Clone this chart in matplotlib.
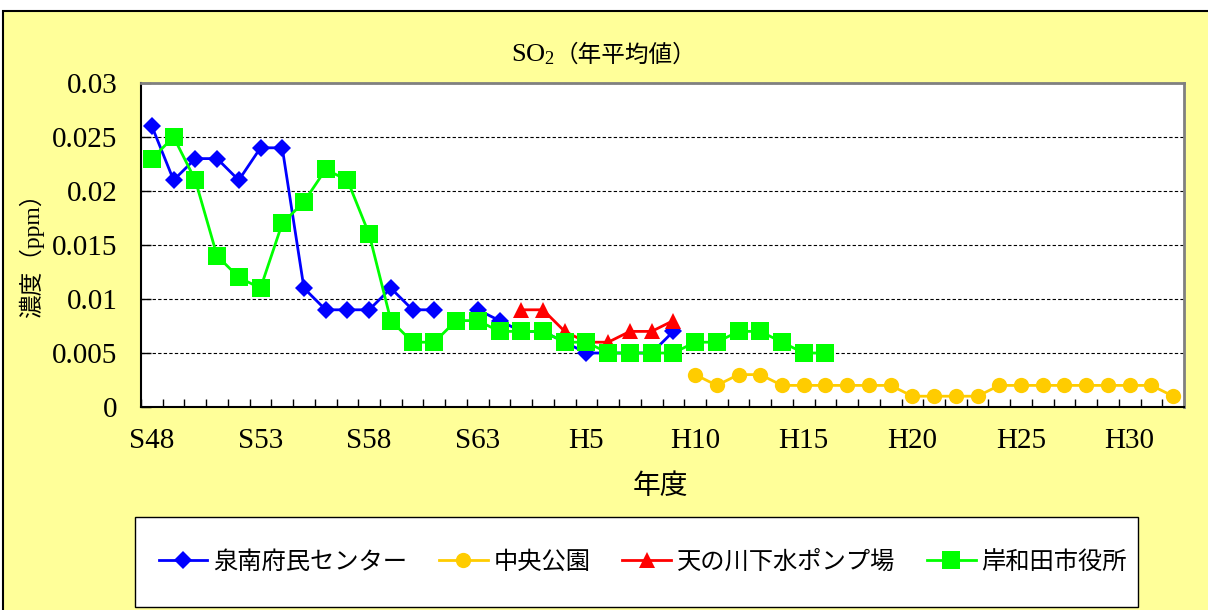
import numpy as np
import matplotlib
matplotlib.use("Agg")
import matplotlib.pyplot as plt
from matplotlib.patches import Rectangle

plt.rcParams['font.family'] = ['Liberation Serif', 'Noto Sans CJK JP']
plt.rcParams['mathtext.fontset'] = 'custom'
plt.rcParams['mathtext.rm'] = 'Liberation Serif'

nan = np.nan

# fiscal years on the category axis (S48 = 1973 ... H32 = 2020)
years = [f"S{y}" for y in range(48, 64)] + [f"H{y}" for y in range(1, 33)]
tick_years = ["S48", "S53", "S58", "S63", "H5", "H10", "H15", "H20", "H25", "H30"]
y_ticks = [0, 0.005, 0.01, 0.015, 0.02, 0.025, 0.03]

# 泉南府民センター
sennan_start = "S48"
sennan = [0.026, 0.021, 0.023, 0.023, 0.021, 0.024, 0.024, 0.011, 0.009, 0.009,
          0.009, 0.011, 0.009, 0.009, nan, 0.009, 0.008, 0.007, 0.007, 0.006,
          0.005, 0.005, 0.005, 0.005, 0.007]

# 中央公園
chuo_start = "H10"
chuo = [0.003, 0.002, 0.003, 0.003, 0.002, 0.002, 0.002, 0.002, 0.002, 0.002,
        0.001, 0.001, 0.001, 0.001, 0.002, 0.002, 0.002, 0.002, 0.002, 0.002,
        0.002, 0.002, 0.001]

# 天の川下水ポンプ場
amanogawa_start = "H2"
amanogawa = [0.009, 0.009, 0.007, 0.006, 0.006, 0.007, 0.007, 0.008]

# 岸和田市役所
kishiwada_start = "S48"
kishiwada = [0.023, 0.025, 0.021, 0.014, 0.012, 0.011, 0.017, 0.019, 0.022, 0.021,
             0.016, 0.008, 0.006, 0.006, 0.008, 0.008, 0.007, 0.007, 0.007, 0.006,
             0.006, 0.005, 0.005, 0.005, 0.005, 0.006, 0.006, 0.007, 0.007, 0.006,
             0.005, 0.005]

series = [
    ("泉南府民センター", sennan_start, sennan, "#0000FF", "D", 9.5),
    ("中央公園", chuo_start, chuo, "#FFCC00", "o", 11),
    ("天の川下水ポンプ場", amanogawa_start, amanogawa, "#FF0000", "^", 11),
    ("岸和田市役所", kishiwada_start, kishiwada, "#00FF00", "s", 13),
]

W, H = 1208, 610
fig = plt.figure(figsize=(W / 100, H / 100), dpi=100)
fig.patch.set_facecolor("white")

# yellow chart area with a black edge
fig.add_artist(Rectangle((3 / W, -0.05), 1.1, (H - 11) / H + 0.05,
                         transform=fig.transFigure, facecolor="#FFFF99",
                         edgecolor="black", linewidth=1.5, zorder=-10))

ax = fig.add_axes([141 / W, 1 - 407 / H, (1184 - 141) / W, (407 - 83) / H])
ax.set_facecolor("white")

handles = []
for i, (name, start, vals, color, marker, ms) in enumerate(series):
    x = years.index(start) + np.arange(len(vals))
    ln, = ax.plot(x, vals, color=color, marker=marker, markersize=ms,
                  linewidth=2, markeredgewidth=0, label=name, zorder=3 + i)
    handles.append(ln)

ax.set_xlim(-0.5, len(years) - 0.5)
ax.set_ylim(0, 0.03)

ax.set_xticks([years.index(t) for t in tick_years])
ax.set_xticklabels(tick_years)
ax.set_xticks(np.arange(-0.5, len(years), 1), minor=True)
ax.tick_params(axis="x", which="major", length=0, pad=15, labelsize=21)
ax.tick_params(axis="x", which="minor", direction="in", length=6, width=1, color="black")

ax.set_yticks(y_ticks)
ax.set_yticklabels([f"{v:g}" for v in y_ticks])
ax.tick_params(axis="y", direction="in", length=7, width=1, pad=17, labelsize=21)

ax.yaxis.grid(True, linestyle=(0, (3, 2)), color="black", linewidth=0.8)
ax.set_axisbelow(True)

for s in ("left", "bottom"):
    ax.spines[s].set_color("black")
    ax.spines[s].set_linewidth(1.5)
for s in ("top", "right"):
    ax.spines[s].set_color("#808080")
    ax.spines[s].set_linewidth(2)

# title: SO2 part in serif, the rest in the CJK font
fig.text(555 / W, 1 - 55 / H, r"$\mathrm{SO_2}$", ha="right", va="center", fontsize=19)
fig.text(555 / W, 1 - 55 / H, "（年平均値）", ha="left", va="center", fontsize=17)
fig.text(31 / W, 1 - 250 / H, "濃度（ppm）", rotation=90, ha="center", va="center", fontsize=17)
fig.text(660 / W, 1 - 487 / H, "年度", ha="center", va="center", fontsize=20)

# legend box
fig.add_artist(Rectangle((135 / W, 1 - 607 / H), (1138 - 135) / W, 90 / H,
                         transform=fig.transFigure, facecolor="white",
                         edgecolor="black", linewidth=1, zorder=1))
leg = fig.legend(handles, [h.get_label() for h in handles], loc="center",
                 bbox_to_anchor=(643 / W, 1 - 562 / H), ncol=4, frameon=False,
                 prop={"family": ["Noto Sans CJK JP"], "size": 17.5},
                 handlelength=2.0, handletextpad=0.25, columnspacing=1.3)
leg.set_zorder(2)

fig.savefig("out.png", dpi=100)
